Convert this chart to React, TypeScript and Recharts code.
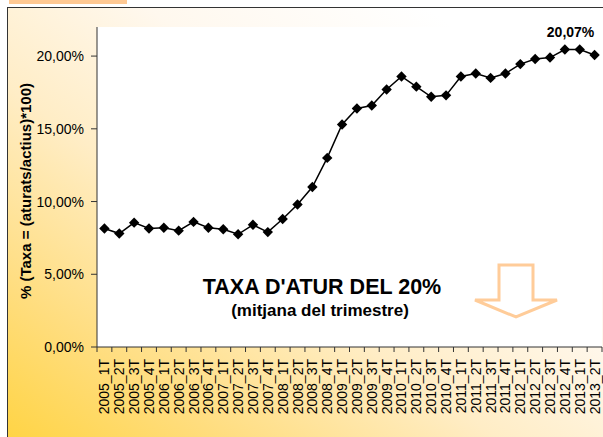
import { CartesianGrid, Line, LineChart, XAxis, YAxis } from "recharts"

const quarters = [
  "2005_1T", "2005_2T", "2005_3T", "2005_4T",
  "2006_1T", "2006_2T", "2006_3T", "2006_4T",
  "2007_1T", "2007_2T", "2007_3T", "2007_4T",
  "2008_1T", "2008_2T", "2008_3T", "2008_4T",
  "2009_1T", "2009_2T", "2009_3T", "2009_4T",
  "2010_1T", "2010_2T", "2010_3T", "2010_4T",
  "2011_1T", "2011_2T", "2011_3T", "2011_4T",
  "2012_1T", "2012_2T", "2012_3T", "2012_4T",
  "2013_1T", "2013_2T",
]

const unemployment = [
  8.15, 7.8, 8.55, 8.15,
  8.2, 8.0, 8.6, 8.2,
  8.1, 7.75, 8.4, 7.9,
  8.8, 9.8, 11.0, 13.0,
  15.3, 16.4, 16.6, 17.7,
  18.6, 17.9, 17.2, 17.3,
  18.6, 18.8, 18.5, 18.8,
  19.45, 19.8, 19.9, 20.45,
  20.45, 20.07,
]

const yTicks = [0, 5, 10, 15, 20]

const data = quarters.map((q, i) => ({ q, v: unemployment[i] }))

const FONT = '"Liberation Sans", Arial, sans-serif'
const PLOT_W = 505
const STEP = PLOT_W / quarters.length

const pct = (v: number) => `${v.toFixed(2).replace(".", ",")}%`

function Diamond(props: any) {
  const { cx, cy, index } = props
  if (cx == null || cy == null) return <g key={index} />
  const r = 5.2
  return (
    <polygon
      key={index}
      points={`${cx},${cy - r} ${cx + r},${cy} ${cx},${cy + r} ${cx - r},${cy}`}
      fill="#000"
    />
  )
}

function QuarterTick(props: any) {
  const { x, y, payload, index } = props
  const left = x - STEP / 2
  return (
    <g>
      <line x1={left} y1={y - 8} x2={left} y2={y - 3} stroke="#333" />
      {index === quarters.length - 1 && (
        <line x1={x + STEP / 2} y1={y - 8} x2={x + STEP / 2} y2={y - 3} stroke="#333" />
      )}
      <text
        x={x}
        y={y + 4}
        transform={`rotate(-90, ${x}, ${y + 4})`}
        textAnchor="end"
        dominantBaseline="central"
        fontSize={14}
        fontFamily={FONT}
        fill="#000"
      >
        {payload.value}
      </text>
    </g>
  )
}

function LastLabel(props: any) {
  const { x, y, index, value } = props
  if (index !== unemployment.length - 1) return null
  return (
    <text
      x={x - 24}
      y={y - 18}
      textAnchor="middle"
      fontSize={14}
      fontWeight="bold"
      fontFamily={FONT}
      fill="#000"
    >
      {pct(value)}
    </text>
  )
}

export default function App() {
  return (
    <div
      style={{
        position: "absolute",
        left: 0,
        top: 0,
        width: 603,
        height: 437,
        overflow: "hidden",
        background: "#fff",
        fontFamily: FONT,
      }}
    >
      <div
        style={{
          position: "absolute",
          left: 9,
          top: 0,
          width: 118,
          height: 4,
          background: "#FFC993",
        }}
      />
      <div
        style={{
          position: "absolute",
          left: 7,
          top: 7,
          width: 700,
          height: 500,
          borderLeft: "1px solid #333",
          borderTop: "1px solid #333",
          background:
            "linear-gradient(to top right, #FFD02A 0%, #FFDD7E 22%, #FFEDC6 42%, #FFF8EE 60%, #FFFFFF 80%)",
        }}
      />
      <div style={{ position: "absolute", left: 0, top: 0 }}>
        <LineChart
          width={603}
          height={437}
          data={data}
          margin={{ top: 27, right: 1, left: 0, bottom: 10 }}
        >
          <CartesianGrid fill="#fff" stroke="none" horizontal={false} vertical={false} />
          <XAxis
            dataKey="q"
            interval={0}
            height={80}
            padding={{ left: STEP / 2, right: STEP / 2 }}
            axisLine={{ stroke: "#333" }}
            tickLine={false}
            tick={<QuarterTick />}
          />
          <YAxis
            width={97}
            domain={[0, 22]}
            ticks={yTicks}
            tickFormatter={pct}
            axisLine={{ stroke: "#333" }}
            tickLine={{ stroke: "#333" }}
            tickSize={6}
            tickMargin={7}
            tick={{ fontSize: 14, fontFamily: FONT, fill: "#000" }}
          />
          <Line
            dataKey="v"
            stroke="#000"
            strokeWidth={1.5}
            dot={<Diamond />}
            activeDot={false}
            isAnimationActive={false}
            label={<LastLabel />}
          />
        </LineChart>
      </div>
      <div
        style={{
          position: "absolute",
          left: 25,
          top: 191,
          transform: "translate(-50%, -50%) rotate(-90deg)",
          whiteSpace: "nowrap",
          fontSize: 15,
          fontWeight: "bold",
          color: "#000",
        }}
      >
        % (Taxa = (aturats/actius)*100)
      </div>
      <div
        style={{
          position: "absolute",
          left: 322,
          top: 276,
          transform: "translateX(-50%)",
          whiteSpace: "nowrap",
          fontSize: 21.5,
          fontWeight: "bold",
          color: "#000",
          lineHeight: "22px",
        }}
      >
        TAXA D'ATUR DEL 20%
      </div>
      <div
        style={{
          position: "absolute",
          left: 320,
          top: 302,
          transform: "translateX(-50%)",
          whiteSpace: "nowrap",
          fontSize: 17,
          fontWeight: "bold",
          color: "#000",
          lineHeight: "18px",
        }}
      >
        (mitjana del trimestre)
      </div>
      <svg
        width={603}
        height={437}
        style={{ position: "absolute", left: 0, top: 0, pointerEvents: "none" }}
      >
        <polygon
          points="499,265 533,265 533,300 557,300 516,317 475,300 499,300"
          fill="#fff"
          stroke="#FFCC99"
          strokeWidth={3}
          strokeLinejoin="miter"
        />
      </svg>
    </div>
  )
}
